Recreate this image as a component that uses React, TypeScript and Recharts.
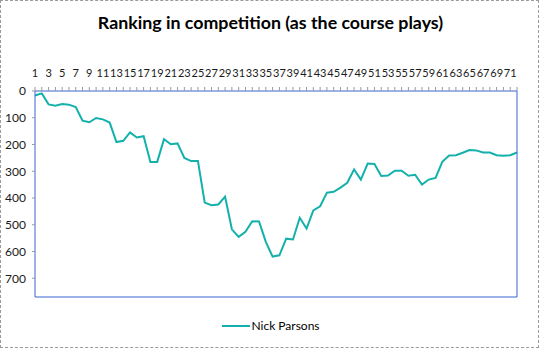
import React from 'react';
import { LineChart, Line, XAxis, YAxis, Legend } from 'recharts';

const holes = [
  1, 2, 3, 4, 5, 6, 7, 8, 9, 10, 11, 12, 13, 14, 15, 16, 17, 18, 19, 20, 21, 22, 23, 24,
  25, 26, 27, 28, 29, 30, 31, 32, 33, 34, 35, 36, 37, 38, 39, 40, 41, 42, 43, 44, 45, 46, 47, 48,
  49, 50, 51, 52, 53, 54, 55, 56, 57, 58, 59, 60, 61, 62, 63, 64, 65, 66, 67, 68, 69, 70, 71, 72,
];

const nickParsons = [
  17, 9, 50, 55, 49, 51, 60, 111, 117, 101,
  106, 118, 191, 186, 155, 174, 169, 265, 265, 180,
  199, 196, 250, 262, 262, 417, 427, 424, 395, 517,
  545, 526, 487, 488, 564, 619, 614, 552, 555, 474,
  514, 446, 431, 380, 377, 361, 343, 293, 331, 271,
  273, 318, 316, 298, 298, 317, 313, 350, 331, 325,
  265, 241, 240, 231, 221, 222, 230, 230, 240, 242,
  240, 230,
];

const rankTicks = [0, 100, 200, 300, 400, 500, 600, 700];

const data = holes.map((h, i) => ({ hole: String(h), rank: nickParsons[i] }));

const FONT = 'Lato, "Open Sans", sans-serif';
const LINE_COLOR = '#14B1AC';
const AXIS_COLOR = '#3A64D2';

const TopTick = (props: any) => {
  const { x, y, payload, index } = props;
  if (index % 2 !== 0) return null;
  return (
    <text x={x} y={y} textAnchor="middle" fontSize={11} fontFamily={FONT} fill="#1a1a1a" dy={-2}>
      {payload.value}
    </text>
  );
};

const LegendContent = (props: any) => {
  const { payload } = props;
  return (
    <div style={{ display: 'flex', justifyContent: 'center', alignItems: 'center' }}>
      {(payload || []).map((p: any) => (
        <div key={p.value} style={{ display: 'flex', alignItems: 'center' }}>
          <svg width={28} height={10}>
            <line x1={0} y1={5} x2={28} y2={5} stroke={p.color} strokeWidth={2} />
          </svg>
          <span style={{ fontFamily: FONT, fontSize: 12, color: '#000', marginLeft: 1 }}>{p.value}</span>
        </div>
      ))}
    </div>
  );
};

export default function App() {
  return (
    <div
      style={{
        position: 'fixed',
        left: 0,
        top: 0,
        width: 539,
        height: 348,
        boxSizing: 'border-box',
        border: '1px dashed #9a9a9a',
        background: '#fff',
      }}
    >
      <div
        style={{
          position: 'absolute',
          left: 0,
          top: 10,
          width: 539,
          textAlign: 'center',
          fontFamily: FONT,
          fontWeight: 700,
          fontSize: 17.8,
          color: '#000',
        }}
      >
        Ranking in competition (as the course plays)
      </div>
      <div style={{ position: 'absolute', left: -1, top: -1 }}>
        <LineChart
          width={539}
          height={348}
          data={data}
          margin={{ top: 60, right: 21, left: 0, bottom: 30 }}
        >
          <XAxis
            xAxisId="top"
            dataKey="hole"
            orientation="top"
            height={31}
            interval={0}
            tick={<TopTick />}
            tickSize={4}
            tickLine={{ stroke: '#9a9a9a' }}
            axisLine={{ stroke: AXIS_COLOR, strokeWidth: 1 }}
            tickMargin={8}
          />
          <XAxis
            xAxisId="bottom"
            dataKey="hole"
            orientation="bottom"
            height={1}
            tick={false}
            tickLine={false}
            axisLine={{ stroke: AXIS_COLOR, strokeWidth: 1 }}
          />
          <YAxis
            yAxisId="left"
            reversed
            domain={[0, 770]}
            ticks={rankTicks}
            width={35}
            tickSize={3}
            tickMargin={6}
            tickLine={{ stroke: '#9a9a9a' }}
            axisLine={{ stroke: AXIS_COLOR, strokeWidth: 1 }}
            tick={{ fontSize: 12, fontFamily: FONT, fill: '#1a1a1a' }}
            interval={0}
          />
          <YAxis
            yAxisId="right"
            orientation="right"
            reversed
            domain={[0, 770]}
            width={1}
            tick={false}
            tickLine={false}
            axisLine={{ stroke: AXIS_COLOR, strokeWidth: 1 }}
          />
          <Legend
            verticalAlign="bottom"
            align="center"
            height={20}
            content={<LegendContent />}
            wrapperStyle={{ top: 318, bottom: 'auto', left: 12 }}
          />
          <Line
            xAxisId="top"
            yAxisId="left"
            type="linear"
            dataKey="rank"
            name="Nick Parsons"
            stroke={LINE_COLOR}
            strokeWidth={2}
            dot={false}
            isAnimationActive={false}
          />
        </LineChart>
      </div>
    </div>
  );
}
